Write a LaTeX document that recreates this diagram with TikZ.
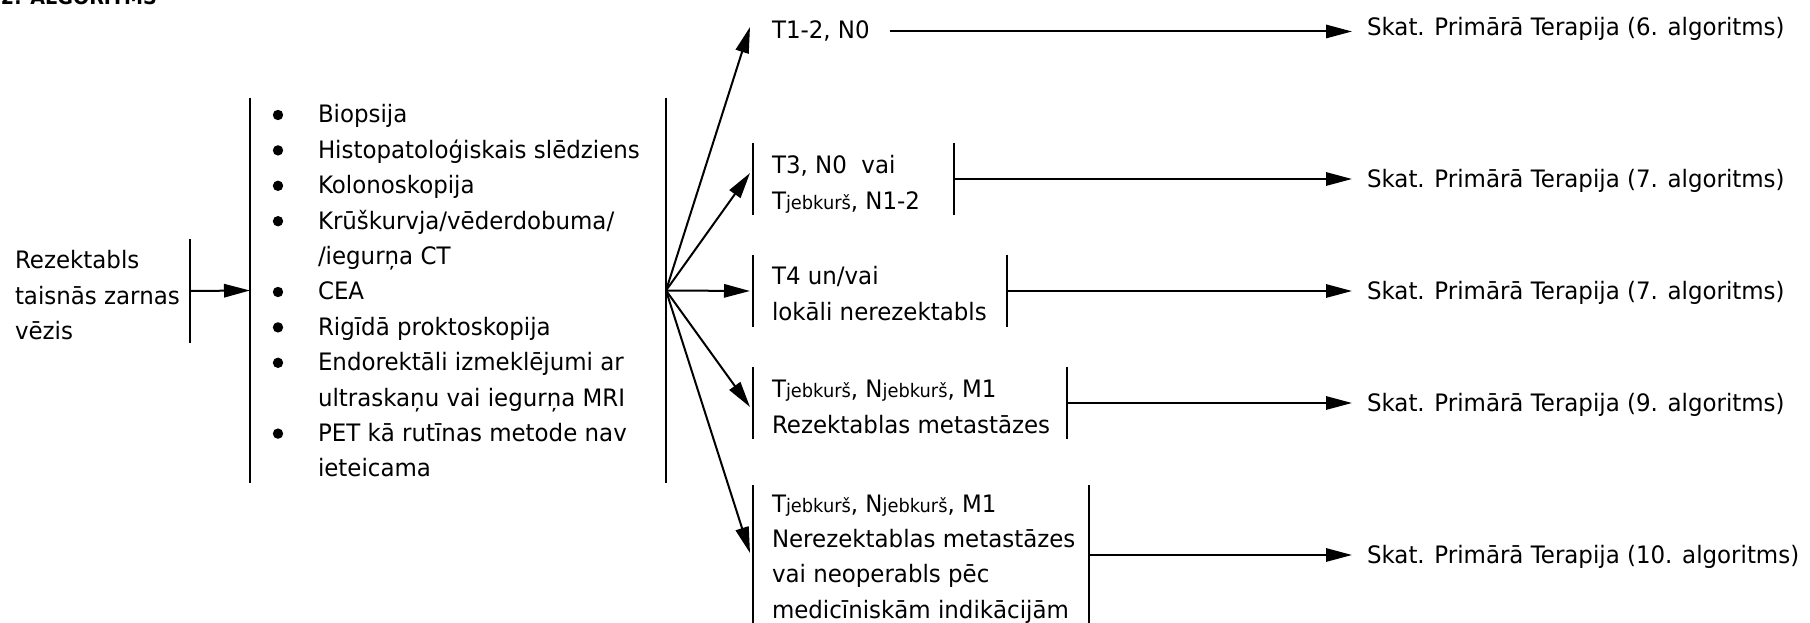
\documentclass[tikz,border=0pt]{standalone}
\usepackage{fontspec}
\setmainfont{DejaVu Sans}[FakeStretch=0.955]
\usetikzlibrary{arrows.meta,fit}

% smaller "any" index written after T and N
\newcommand\jb{{\fontsize{14pt}{14pt}\selectfont jebkurš}}
\newcommand\txtsize{\fontsize{18pt}{26.55pt}\selectfont}
% stacked lines whose baseline is the first line's baseline
\newcommand\lines[1]{\begin{tabular}[t]{@{}l@{}}#1\end{tabular}}

\begin{document}
\begin{tikzpicture}[x=0.75pt,y=-0.75pt,line width=1.5pt,
  txt/.style={inner sep=0pt,outer sep=0pt,anchor=base west,font=\txtsize},
  brk/.style={inner sep=0pt,outer sep=0pt,
    append after command={(\tikzlastnode.north west) edge (\tikzlastnode.south west)
                          (\tikzlastnode.north east) edge (\tikzlastnode.south east)}},
  arr/.style={-{Triangle[length=19.5pt,width=10pt]}}]

\useasboundingbox (0,0) rectangle (1810,623);

% heading, cut by the top edge of the page
\node[anchor=base west,inner sep=0pt,font=\bfseries\fontsize{15pt}{15pt}\selectfont] (ttl) at (0,5) {2. ALGORITMS};

% starting point
\node[txt] (src) at (15,269) {\lines{Rezektabls\\taisnās zarnas\\vēzis}};
\draw (190,239) -- (190,343);
\coordinate (in) at (190,291);

% examinations
\node[brk,fit={(250,98) (666,483)}] (lb) {};
\node[txt] (lst) at (318,123) {\lines{Biopsija\\
  Histopatoloģiskais slēdziens\\
  Kolonoskopija\\
  Krūškurvja/vēderdobuma/\\
  /iegurņa CT\\
  CEA\\
  Rigīdā proktoskopija\\
  Endorektāli izmeklējumi ar\\
  ultraskaņu vai iegurņa MRI\\
  PET kā rutīnas metode nav\\
  ieteicama}};
\foreach \i in {0,1,2,3,5,6,7,9}
  \fill (278,{123+35.4*\i-8}) circle (3.9pt);

\draw[arr] (in) -- (lb.west);

% stages
\node[txt] (t1) at (772,39) {T1-2, N0};

\node[brk,fit={(753,143) (954,215)}] (b2) {};
\node[txt] (t2) at (772,174) {\lines{T3, N0~ vai\\T\jb, N1-2}};

\node[brk,fit={(753,255) (1007,327)}] (b3) {};
\node[txt] (t3) at (772,285) {\lines{T4 un/vai\\lokāli nerezektabls}};

\node[brk,fit={(753,367) (1067,439)}] (b4) {};
\node[txt] (t4) at (772,398) {\lines{T\jb, N\jb, M1\\Rezektablas metastāzes}};

\node[brk,fit={(753,485) (1089,625)}] (b5) {};
\node[txt] (t5) at (772,512) {\lines{T\jb, N\jb, M1\\Nerezektablas metastāzes\\vai neoperabls pēc\\medicīniskām indikācijām}};

% references to the therapy algorithms
\node[txt] (s1) at (1367,36) {Skat. Primārā Terapija (6. algoritms)};
\node[txt] (s2) at (1367,187.5) {Skat. Primārā Terapija (7. algoritms)};
\node[txt] (s3) at (1367,299.5) {Skat. Primārā Terapija (7. algoritms)};
\node[txt] (s4) at (1367,411.5) {Skat. Primārā Terapija (9. algoritms)};
\node[txt] (s5) at (1367,563.5) {Skat. Primārā Terapija (10. algoritms)};

% fan of arrows to the stages
\coordinate (e1) at (750,27);
\coordinate (e2) at (750,173);
\coordinate (e3) at (750,291);
\coordinate (e4) at (750,407);
\coordinate (e5) at (750,553);
\foreach \e in {e1,e2,e3,e4,e5}
  \draw[arr] (lb.east) -- (\e);

% arrows to the algorithms
\draw[arr,shorten <=15pt,shorten >=11.25pt] (t1.east) -- (t1.east -| s1.west);
\foreach \b/\s in {b2/s2,b3/s3,b4/s4,b5/s5}
  \draw[arr,shorten >=11.25pt] (\b.east) -- (\b.east -| \s.west);

\end{tikzpicture}
\end{document}
